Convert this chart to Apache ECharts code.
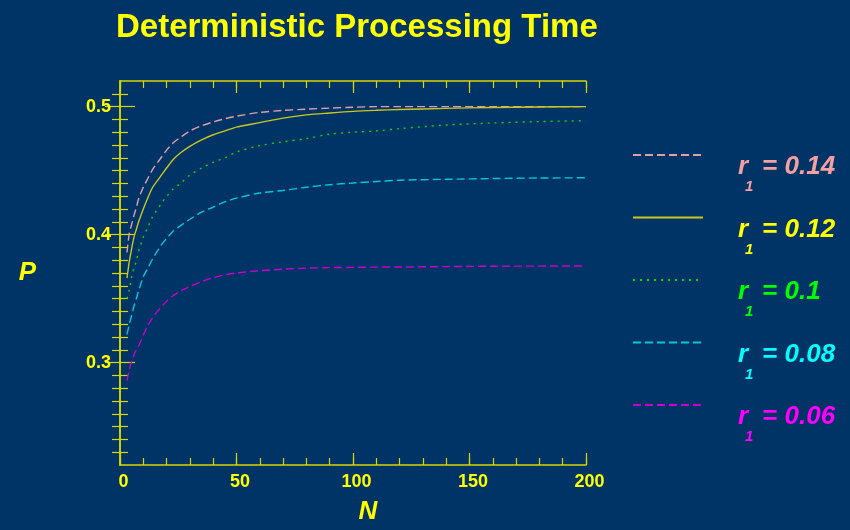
<!DOCTYPE html>
<html>
<head>
<meta charset="utf-8">
<script src="https://cdn.jsdelivr.net/npm/echarts@6/dist/echarts.min.js"></script>
<style>
html,body{margin:0;padding:0;background:#003366;}
#chart{width:850px;height:530px;}
</style>
</head>
<body>
<div id="chart"></div>
<script>
// ---- data ----
const nValues = [3,4,5,6,7,8,10,12,14,16,18,20,23,26,30,35,40,45,50,60,70,80,90,100,110,120,140,160,180,200];
const pR014 = [0.386,0.401,0.408,0.415,0.421,0.428,0.437,0.444,0.451,0.456,0.461,0.466,0.472,0.476,0.481,0.485,0.488,0.4905,0.4925,0.4955,0.497,0.498,0.4988,0.4995,0.5,0.5,0.5,0.5,0.5,0.5];
const pR012 = [0.366,0.379,0.389,0.398,0.404,0.410,0.420,0.429,0.437,0.442,0.447,0.452,0.459,0.464,0.469,0.474,0.478,0.481,0.484,0.4875,0.491,0.4935,0.495,0.4963,0.4971,0.4977,0.4986,0.4993,0.4997,0.5];
const pR010 = [0.350,0.357,0.367,0.374,0.379,0.387,0.398,0.406,0.414,0.4195,0.425,0.4297,0.436,0.440,0.4465,0.452,0.4565,0.460,0.4645,0.4695,0.4725,0.475,0.4785,0.480,0.481,0.4828,0.4856,0.4872,0.4883,0.489];
const pR008 = [0.322,0.330,0.337,0.344,0.350,0.356,0.367,0.374,0.381,0.387,0.3925,0.397,0.403,0.407,0.412,0.4175,0.4215,0.4255,0.4285,0.4325,0.4345,0.437,0.439,0.4403,0.4415,0.4425,0.4432,0.4438,0.4442,0.4444];
const pR006 = [0.286,0.2945,0.301,0.306,0.310,0.313,0.3215,0.329,0.335,0.340,0.344,0.348,0.3525,0.356,0.3595,0.3633,0.3663,0.3685,0.370,0.3718,0.373,0.3738,0.3742,0.3744,0.3746,0.3747,0.375,0.3753,0.3754,0.3755];
const rLabels = ['0.14','0.12','0.1','0.08','0.06'];
const xMajorTicks = [0,50,100,150,200];
const yMajorTicks = [0.3,0.4,0.5];
const yMinorTicks = [0.23,0.24,0.25,0.26,0.27,0.28,0.29,0.31,0.32,0.33,0.34,0.35,0.36,0.37,0.38,0.39,0.41,0.42,0.43,0.44,0.45,0.46,0.47,0.48,0.49,0.51];

// ---- styles ----
const AXC = '#d8d800';
const LBL = '#ffff00';
const FONT = 'Liberation Sans, Arial, sans-serif';
const lineColors = ['#dda0a8','#c8c81e','#00dd00','#00c8d8','#cc00cc'];
const textColors = ['#f4a0a0','#ffff00','#00ff00','#00ffff','#ff00ff'];
const dashTypes = [[8,4],'solid',[2,5],[8,4],[8,4]];
const allP = [pR014,pR012,pR010,pR008,pR006];
const names = rLabels.map(v => 'r1 = ' + v);

function xAx(pos, major){
  return {
    type:'value', min:0, max:200, interval: major ? 50 : 10, position: pos,
    axisLine:{show: major, lineStyle:{color:AXC, width:1.5}},
    axisTick:{show:true, inside:true, length: major ? 12 : 7, lineStyle:{color:AXC, width:1.2}},
    axisLabel:{show: major && pos==='bottom', color:LBL, fontSize:18, fontWeight:'bold',
      fontFamily:FONT, margin:8, padding:[0,0,0,7]},
    splitLine:{show:false}
  };
}
function yAx(pos, major){
  return {
    type:'value', min:0.22, max:0.52, position: pos,
    axisLine:{show: major, lineStyle:{color:AXC, width:1.5}},
    axisTick:{show:true, inside:true, length: major ? 15 : 8, lineStyle:{color:AXC, width:1.2},
      customValues: major ? yMajorTicks : yMinorTicks},
    axisLabel:{show: major && pos==='left', color:LBL, fontSize:18, fontWeight:'bold',
      fontFamily:FONT, margin:9, customValues: yMajorTicks,
      formatter: v => String(Math.round(v*10)/10)},
    splitLine:{show:false}
  };
}

const xAxes = [xAx('bottom',true), xAx('bottom',false), xAx('top',true), xAx('top',false)];
xAxes[0].name = 'N';
xAxes[0].nameLocation = 'middle';
xAxes[0].nameGap = 34;
xAxes[0].nameTextStyle = {color:LBL, fontSize:26, fontWeight:'bold', fontStyle:'italic',
  fontFamily:FONT, padding:[0,0,0,30]};
const yAxes = [yAx('left',true), yAx('left',false), yAx('right',true), yAx('right',false)];
yAxes[0].name = 'P';
yAxes[0].nameLocation = 'middle';
yAxes[0].nameRotate = 0;
yAxes[0].nameGap = 84;
yAxes[0].nameTextStyle = {color:LBL, fontSize:26, fontWeight:'bold', fontStyle:'italic',
  fontFamily:FONT, padding:[0,0,24,0]};

const series = allP.map((arr, i) => ({
  name: names[i], type:'line', xAxisIndex:0, yAxisIndex:0,
  data: nValues.map((n, k) => [n, arr[k]]),
  symbol:'none', smooth:0.3,
  lineStyle:{color:lineColors[i], width:1.4, type:dashTypes[i]},
  itemStyle:{color:lineColors[i]},
  emphasis:{disabled:true}
}));

const chart = echarts.init(document.getElementById('chart'), null, {renderer:'canvas'});
chart.setOption({
  backgroundColor:'#003366',
  animation:false,
  title:{text:'Deterministic Processing Time', left:111, top:6,
    textStyle:{color:LBL, fontSize:33, fontWeight:'bold', fontFamily:FONT}},
  grid:{left:120, right:264, top:81, bottom:58, containLabel:false},
  xAxis: xAxes,
  yAxis: yAxes,
  legend:{
    orient:'vertical', left:632, top:113, padding:0, itemGap:-19,
    itemWidth:70, itemHeight:14, selectedMode:false,
    itemStyle:{opacity:0},
    data: names.map((n,i) => ({name:n, textStyle:{color:textColors[i]}})),
    formatter: function(name){
      const v = rLabels[names.indexOf(name)];
      return '{s| }\n{r|r}{eq|= ' + v + '}\n{sub|1}';
    },
    textStyle:{
      fontFamily:FONT, fontWeight:'bold', fontStyle:'italic',
      rich:{
        s:{fontSize:10, lineHeight:44, height:44},
        r:{fontSize:26, lineHeight:20, fontWeight:'bold', fontStyle:'italic', padding:[0,0,0,30]},
        eq:{fontSize:26, lineHeight:20, fontWeight:'bold', fontStyle:'italic', padding:[0,0,0,14]},
        sub:{fontSize:15, lineHeight:20, fontWeight:'bold', fontStyle:'italic', padding:[0,0,0,37]}
      }
    }
  },
  series: series
});
</script>
</body>
</html>
